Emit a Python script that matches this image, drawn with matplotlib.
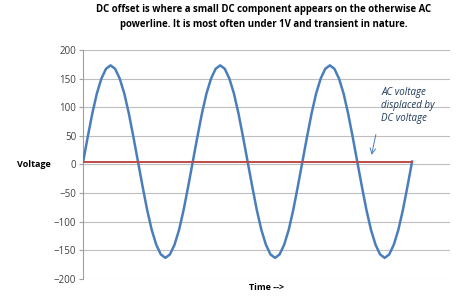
import matplotlib
matplotlib.use("Agg")
import matplotlib.pyplot as plt

# readings taken off the chart, 15 degree steps over three cycles
ac_voltage = [
    5, 48, 89, 124, 150, 167, 173, 167, 150, 124, 89, 48,
    5, -38, -79, -114, -140, -157, -163, -157, -140, -114, -79, -38,
    5, 48, 89, 124, 150, 167, 173, 167, 150, 124, 89, 48,
    5, -38, -79, -114, -140, -157, -163, -157, -140, -114, -79, -38,
    5, 48, 89, 124, 150, 167, 173, 167, 150, 124, 89, 48,
    5, -38, -79, -114, -140, -157, -163, -157, -140, -114, -79, -38,
    5,
]
time = list(range(len(ac_voltage)))
dc_time = [0, 72]
dc_voltage = [5, 5]
y_ticks = [200, 150, 100, 50, 0, -50, -100, -150, -200]

title = ("DC offset is where a small DC component appears on the otherwise AC\n"
         "powerline. It is most often under 1V and transient in nature.")

plt.rcParams['font.family'] = ['Open Sans', 'DejaVu Sans']

fig = plt.figure(figsize=(4.62, 3.08), dpi=100)
ax = fig.add_axes([0.18, 0.094, 0.794, 0.744])

ax.plot(time, ac_voltage, color='#4A7EBB', linewidth=1.8, zorder=3,
        solid_joinstyle='round')
ax.plot(dc_time, dc_voltage, color='#BE4B48', linewidth=1.4, zorder=4)

ax.set_xlim(0, 80.3)
ax.set_ylim(-200, 200)
ax.set_yticks(y_ticks)
ax.set_xticks([])
ax.grid(axis='y', color='#BEBEBE', linewidth=0.8)
ax.set_axisbelow(True)
for side in ['top', 'right', 'bottom']:
    ax.spines[side].set_visible(False)
ax.spines['left'].set_color('#A0A0A0')
ax.spines['left'].set_linewidth(0.8)
ax.tick_params(axis='y', length=3, color='#A0A0A0', labelsize=7,
               labelcolor='#404040', pad=2)

fig.text(0.570, 0.945, title, ha='center', va='center', fontsize=6.9,
         fontweight='bold', linespacing=1.45)
fig.text(0.036, 0.467, 'Voltage', ha='left', va='center', fontsize=6.5,
         fontweight='bold')
fig.text(0.577, 0.065, 'Time -->', ha='center', va='center', fontsize=6.5,
         fontweight='bold')

ax.annotate('', xy=(63.0, 12), xytext=(64.2, 57),
            arrowprops=dict(arrowstyle='->', color='#4A7EBB', linewidth=0.7))
ax.text(65.3, 70, 'AC voltage\ndisplaced by\nDC voltage', fontsize=7,
        style='italic', color='#1F3B5A', ha='left', va='bottom',
        linespacing=1.3)

fig.savefig('out.png', dpi=100)
